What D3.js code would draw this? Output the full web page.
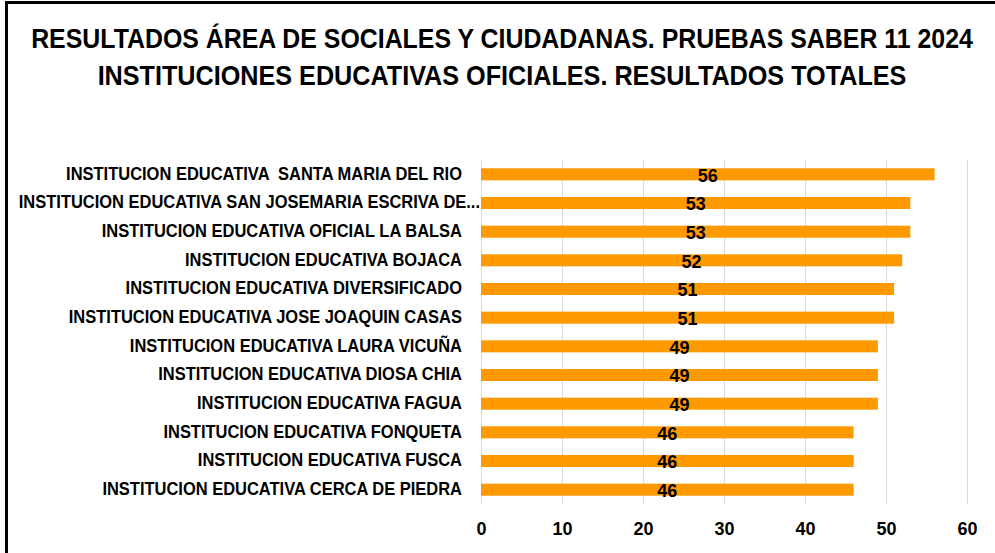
<!DOCTYPE html>
<html>
<head>
<meta charset="utf-8">
<script src="https://cdn.jsdelivr.net/npm/d3@7"></script>
<style>
  body { margin: 0; background: #fff; }
  svg { display: block; }
  .title { font-family: "Liberation Sans", Arial, sans-serif; font-weight: bold; font-size: 28px; fill: #000; }
  .cat { font-family: "Liberation Sans", Arial, sans-serif; font-weight: bold; font-size: 18px; fill: #000; }
  .num { font-family: "Liberation Sans", Arial, sans-serif; font-weight: bold; font-size: 18px; fill: #000; }
</style>
</head>
<body>
<div id="chart"></div>
<script>
// Data
const titleLines = [
  'RESULTADOS ÁREA DE SOCIALES Y CIUDADANAS. PRUEBAS SABER 11 2024',
  'INSTITUCIONES EDUCATIVAS OFICIALES. RESULTADOS TOTALES'
];
const schools = [
  'INSTITUCION EDUCATIVA  SANTA MARIA DEL RIO',
  'INSTITUCION EDUCATIVA SAN JOSEMARIA ESCRIVA DE...',
  'INSTITUCION EDUCATIVA OFICIAL LA BALSA',
  'INSTITUCION EDUCATIVA BOJACA',
  'INSTITUCION EDUCATIVA DIVERSIFICADO',
  'INSTITUCION EDUCATIVA JOSE JOAQUIN CASAS',
  'INSTITUCION EDUCATIVA LAURA VICUÑA',
  'INSTITUCION EDUCATIVA DIOSA CHIA',
  'INSTITUCION EDUCATIVA FAGUA',
  'INSTITUCION EDUCATIVA FONQUETA',
  'INSTITUCION EDUCATIVA FUSCA',
  'INSTITUCION EDUCATIVA CERCA DE PIEDRA'
];
const scores = [56, 53, 53, 52, 51, 51, 49, 49, 49, 46, 46, 46];
const xTicks = [0, 10, 20, 30, 40, 50, 60];

const width = 995, height = 553;
const svg = d3.select('#chart').append('svg')
  .attr('width', width)
  .attr('height', height);

// chart frame (only left and top edges show)
svg.append('line').attr('x1', 6.5).attr('x2', 6.5).attr('y1', 1).attr('y2', height)
  .attr('stroke', '#000').attr('stroke-width', 3);
svg.append('line').attr('x1', 5).attr('x2', width).attr('y1', 2.5).attr('y2', 2.5)
  .attr('stroke', '#000').attr('stroke-width', 3);

// Title, squeezed horizontally to look like the narrow font of the original
const titleWidths = [942, 809];
titleLines.forEach((line, i) => {
  const g = svg.append('g');
  const t = g.append('text')
    .attr('class', 'title')
    .attr('x', 0)
    .attr('y', 0)
    .attr('text-anchor', 'middle')
    .text(line);
  const k = titleWidths[i] / t.node().getComputedTextLength();
  g.attr('transform', `translate(502,${48 + i * 37}) scale(${k},1)`);
});

const x = d3.scaleLinear()
  .domain([0, 60])
  .range([481, 967]);

const y = d3.scaleBand()
  .domain(schools)
  .range([160, 504])
  .paddingInner(0.58)
  .paddingOuter(0.29);

// Gridlines
svg.append('g')
  .selectAll('line')
  .data(xTicks)
  .enter()
  .append('line')
    .attr('x1', d => x(d) + 0.5)
    .attr('x2', d => x(d) + 0.5)
    .attr('y1', 160)
    .attr('y2', 504)
    .attr('stroke', '#d9d9d9')
    .attr('stroke-width', 1);

// Bars
svg.append('g')
  .selectAll('rect')
  .data(schools)
  .enter()
  .append('rect')
    .attr('x', x(0))
    .attr('y', d => y(d))
    .attr('width', (d, i) => x(scores[i]) - x(0))
    .attr('height', y.bandwidth())
    .attr('fill', '#ff9900');

// Category labels (truncated ones run up to the axis)
const catLabels = svg.append('g')
  .selectAll('text')
  .data(schools)
  .enter()
  .append('text')
    .attr('class', 'cat')
    .attr('x', d => d.endsWith('...') ? 480 : 462)
    .attr('y', d => y(d) + y.bandwidth() / 2 - 1)
    .attr('dy', '0.36em')
    .attr('text-anchor', 'end')
    .style('white-space', 'pre')
    .text(d => d);

catLabels.each(function () {
  const w = this.getComputedTextLength();
  d3.select(this)
    .attr('textLength', w * 0.915)
    .attr('lengthAdjust', 'spacingAndGlyphs');
});

// Value labels, centred in the bar
svg.append('g')
  .selectAll('text')
  .data(scores)
  .enter()
  .append('text')
    .attr('class', 'num')
    .attr('x', d => x(d / 2))
    .attr('y', (d, i) => y(schools[i]) + y.bandwidth() / 2 + 1)
    .attr('dy', '0.36em')
    .attr('text-anchor', 'middle')
    .text(d => d);

// X axis labels
const xAxis = svg.append('g')
  .attr('transform', 'translate(0,518)')
  .call(d3.axisBottom(x).tickValues(xTicks).tickSize(0).tickPadding(4));
xAxis.select('.domain').remove();
xAxis.selectAll('text')
  .attr('class', 'num')
  .attr('fill', '#000')
  .style('font-size', '18px');
</script>
</body>
</html>
